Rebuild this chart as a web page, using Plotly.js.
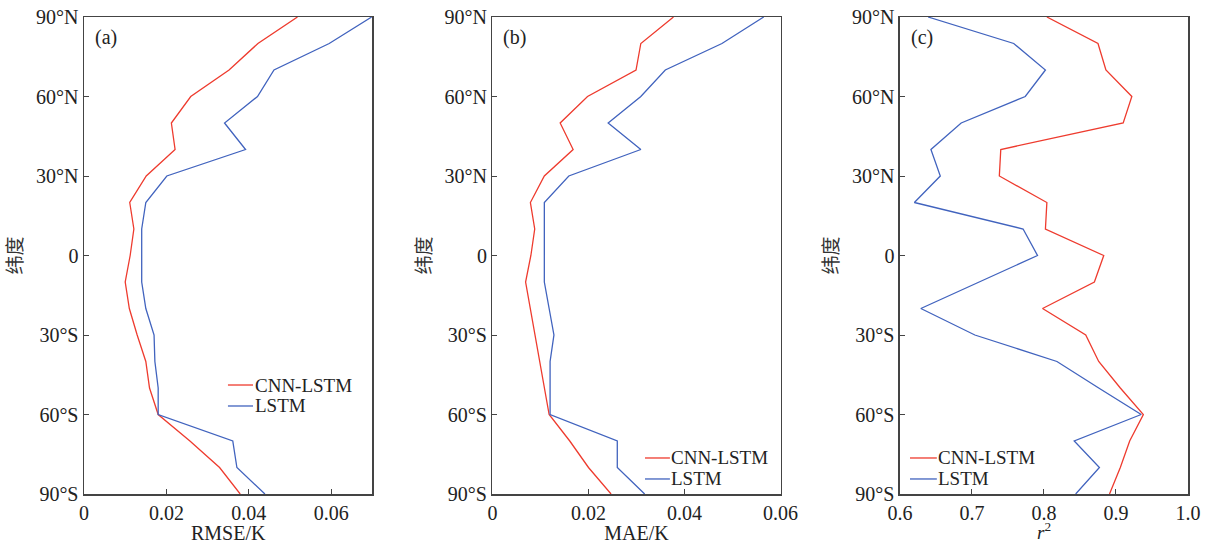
<!DOCTYPE html>
<html>
<head>
<meta charset="utf-8">
<script src="https://cdn.plot.ly/plotly-3.0.1.min.js"></script>
<style>html,body{margin:0;padding:0;background:#fff;}#chart{width:1205px;height:544px;}</style>
</head>
<body>
<div id="chart"></div>
<script>
// Latitudes (degrees, north positive)
const latitudes = [90, 80, 70, 60, 50, 40, 30, 20, 10, 0, -10, -20, -30, -40, -50, -60, -70, -80, -90];
const latTickVals = [-90, -60, -30, 0, 30, 60, 90];
const latTickText = ['90°S', '60°S', '30°S', '0', '30°N', '60°N', '90°N'];

// (a) RMSE/K
const rmseCnnLstm = [0.0518, 0.0422, 0.0352, 0.0259, 0.0212, 0.0221, 0.0151, 0.0111, 0.0121, 0.0112, 0.0100, 0.0110, 0.0129, 0.0150, 0.0159, 0.0180, 0.0257, 0.0329, 0.0379];
const rmseLstm    = [0.0698, 0.0595, 0.0461, 0.0421, 0.0341, 0.0392, 0.0201, 0.0150, 0.0140, 0.0140, 0.0140, 0.0150, 0.0170, 0.0172, 0.0180, 0.0180, 0.0361, 0.0371, 0.0439];

// (b) MAE/K
const maeCnnLstm = [0.0377, 0.0309, 0.0299, 0.0198, 0.0141, 0.0168, 0.0108, 0.0079, 0.0088, 0.0080, 0.0069, 0.0079, 0.0088, 0.0098, 0.0109, 0.0118, 0.0161, 0.0200, 0.0247];
const maeLstm    = [0.0565, 0.0478, 0.0360, 0.0309, 0.0241, 0.0309, 0.0159, 0.0108, 0.0108, 0.0108, 0.0108, 0.0118, 0.0128, 0.0120, 0.0120, 0.0120, 0.0260, 0.0260, 0.0317];

// (c) r^2
const r2CnnLstm = [0.804, 0.875, 0.886, 0.922, 0.910, 0.740, 0.738, 0.804, 0.802, 0.883, 0.870, 0.798, 0.858, 0.876, 0.906, 0.938, 0.919, 0.906, 0.891];
const r2Lstm    = [0.639, 0.758, 0.802, 0.774, 0.685, 0.643, 0.656, 0.620, 0.771, 0.791, 0.710, 0.629, 0.704, 0.818, 0.876, 0.935, 0.842, 0.877, 0.844];

const seriesNames = ['CNN-LSTM', 'LSTM'];
const panelLabels = ['(a)', '(b)', '(c)'];
const RED = '#EE3B2E', BLUE = '#4163BE';
const seriesColors = [RED, BLUE];
const FONT = 'Liberation Serif, Times New Roman, Noto Sans CJK SC, serif';
const TXT = '#222';

function tr(x, name, color, xa, ya) {
  return {x: x, y: latitudes, type: 'scatter', mode: 'lines', name: name,
          line: {color: color, width: 1.3}, xaxis: xa, yaxis: ya, showlegend: false,
          hoverinfo: 'x+y'};
}

const data = [
  tr(rmseCnnLstm, seriesNames[0], RED, 'x', 'y'),
  tr(rmseLstm, seriesNames[1], BLUE, 'x', 'y'),
  tr(maeCnnLstm, seriesNames[0], RED, 'x2', 'y2'),
  tr(maeLstm, seriesNames[1], BLUE, 'x2', 'y2'),
  tr(r2CnnLstm, seriesNames[0], RED, 'x3', 'y3'),
  tr(r2Lstm, seriesNames[1], BLUE, 'x3', 'y3')
];

const axLine = {showline: true, linecolor: '#444', linewidth: 1.5, mirror: true,
  ticks: 'inside', ticklen: 5, tickwidth: 1, tickcolor: '#444', showgrid: false, zeroline: false,
  tickfont: {family: FONT, size: 20, color: TXT}};

function xax(domain, range, dtick, title, anchor, standoff) {
  return Object.assign({}, axLine, {anchor: anchor, domain: domain, range: range, dtick: dtick, tick0: 0,
    title: {text: title, font: {family: FONT, size: 20, color: TXT}, standoff: standoff}});
}
function yax(anchor) {
  return Object.assign({}, axLine, {anchor: anchor, domain: [0, 1], range: [-90, 90],
    tickvals: latTickVals, ticktext: latTickText,
    title: {text: '纬度', font: {family: FONT, size: 19, color: '#333'}, standoff: 8}});
}

const xaxis3 = xax([0.7391, 1], [0.6, 1.0], 0.1, '', 'y3', 3);
xaxis3.tick0 = 0.6;
xaxis3.tickformat = '.1f';

// Custom legends (line key + text) placed inside each panel, in axis-domain coordinates
const legendPos = [
  {xr: 'x domain', yr: 'y domain', x0: 0.499, x1: 0.586, ys: [0.2285, 0.1845]},
  {xr: 'x2 domain', yr: 'y2 domain', x0: 0.5295, x1: 0.616, ys: [0.0755, 0.0315]},
  {xr: 'x3 domain', yr: 'y3 domain', x0: 0.0347, x1: 0.128, ys: [0.0755, 0.0315]}
];
const shapes = [];
const annotations = [];
legendPos.forEach(function (p, k) {
  seriesNames.forEach(function (nm, i) {
    shapes.push({type: 'line', xref: p.xr, yref: p.yr, x0: p.x0, x1: p.x1, y0: p.ys[i], y1: p.ys[i],
      line: {color: seriesColors[i], width: 1.3}});
    annotations.push({text: nm, xref: p.xr, yref: p.yr, x: p.x1 + 0.002, y: p.ys[i], xanchor: 'left', yanchor: 'middle',
      showarrow: false, borderpad: 0, font: {family: FONT, size: 19, color: TXT}});
  });
  annotations.push({text: panelLabels[k], xref: p.xr, yref: p.yr, x: 0.03, y: 0.957, xanchor: 'left', yanchor: 'middle',
    showarrow: false, font: {family: FONT, size: 20, color: TXT}});
});
// x-axis title of panel (c): italic r with superscript 2
annotations.push({text: '<i>r</i><sup>2</sup>', xref: 'x3 domain', yref: 'paper', x: 0.5, y: -0.1055,
  xanchor: 'center', yanchor: 'bottom', showarrow: false, borderpad: 0, font: {family: FONT, size: 19, color: TXT}});

const layout = {
  width: 1205, height: 544,
  margin: {l: 84, r: 17, t: 17, b: 50},
  paper_bgcolor: '#fff', plot_bgcolor: '#fff',
  showlegend: false,
  xaxis: xax([0, 0.2613], [0, 0.07], 0.02, 'RMSE/K', 'y', 3),
  yaxis: yax('x'),
  xaxis2: xax([0.3700, 0.6309], [0, 0.06], 0.02, 'MAE/K', 'y2', 3),
  yaxis2: yax('x2'),
  xaxis3: xaxis3,
  yaxis3: yax('x3'),
  shapes: shapes,
  annotations: annotations
};

Plotly.newPlot('chart', data, layout, {displayModeBar: false, staticPlot: true});
</script>
</body>
</html>
